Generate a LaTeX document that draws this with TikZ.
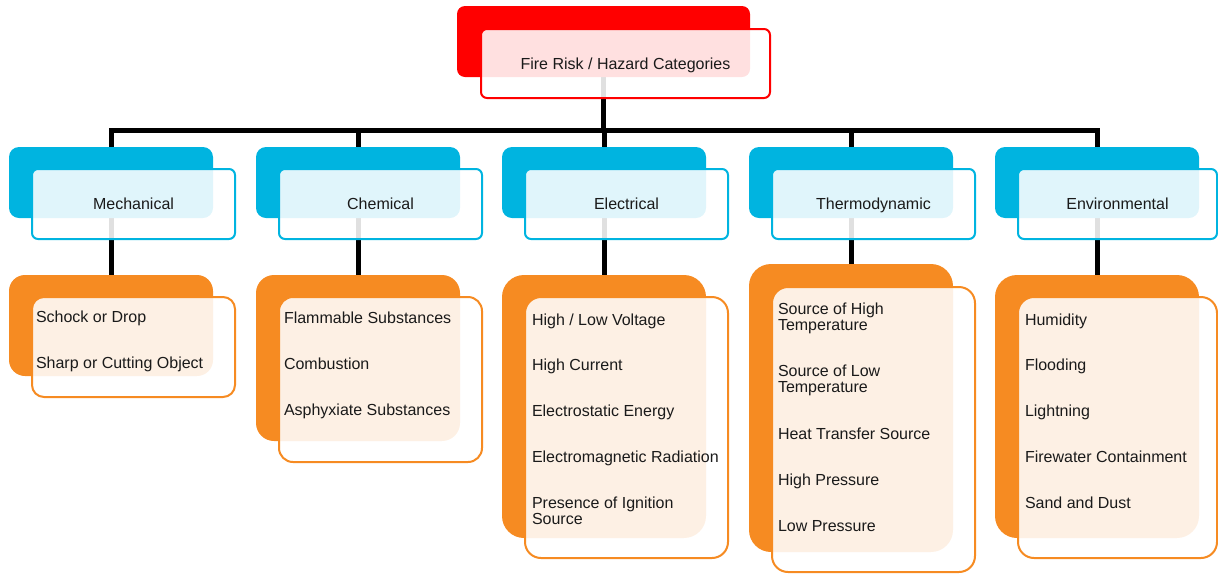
\documentclass[tikz,border=0pt]{standalone}
\usepackage{fontspec}
\setmainfont{Liberation Sans}
\pgfdeclarelayer{bg}
\pgfsetlayers{bg,main}
\definecolor{cred}{HTML}{FF0000}
\definecolor{cblue}{HTML}{00B4E0}
\definecolor{corange}{HTML}{F68B22}
\definecolor{ctext}{HTML}{1A1A1A}
\tikzset{
  backbox/.style={fill=#1, draw=none, anchor=north west, inner sep=0pt, outer sep=0pt},
  frontbox/.style={draw=#1, line width=2pt, fill=white, fill opacity=0.88, text opacity=1,
    anchor=north west, inner sep=0pt, outer sep=0pt, align=center, text=ctext,
    text height=11.5pt, text depth=0pt,
    font=\fontsize{16}{17}\selectfont},
  item/.style={anchor=base west, inner sep=0pt, outer sep=0pt, align=left, text=ctext,
    font=\fontsize{16}{16.2}\selectfont},
  conn/.style={line width=5pt, black, line join=miter},
}
\begin{document}
\begin{tikzpicture}[x=1pt,y=-1pt]
\useasboundingbox (0,0) rectangle (1218,574);
% top
\node[backbox=cred, minimum width=293pt, minimum height=71pt, rounded corners=8pt] (tb) at (457,6) {};
\node[frontbox=cred, minimum width=289pt, minimum height=69pt, rounded corners=6pt] (tf) at (481,29) {Fire Risk / Hazard Categories};
% categories
\node[backbox=cblue, minimum width=204pt, minimum height=71pt, rounded corners=10pt] (c1b) at (9,147) {};
\node[frontbox=cblue, minimum width=203pt, minimum height=70pt, rounded corners=6pt] (c1f) at (32,169) {Mechanical};
\node[backbox=cblue, minimum width=204pt, minimum height=71pt, rounded corners=10pt] (c2b) at (256,147) {};
\node[frontbox=cblue, minimum width=203pt, minimum height=70pt, rounded corners=6pt] (c2f) at (279,169) {Chemical};
\node[backbox=cblue, minimum width=204pt, minimum height=71pt, rounded corners=10pt] (c3b) at (502,147) {};
\node[frontbox=cblue, minimum width=203pt, minimum height=70pt, rounded corners=6pt] (c3f) at (525,169) {Electrical};
\node[backbox=cblue, minimum width=204pt, minimum height=71pt, rounded corners=10pt] (c4b) at (749,147) {};
\node[frontbox=cblue, minimum width=203pt, minimum height=70pt, rounded corners=6pt] (c4f) at (772,169) {Thermodynamic};
\node[backbox=cblue, minimum width=204pt, minimum height=71pt, rounded corners=10pt] (c5b) at (995,147) {};
\node[frontbox=cblue, minimum width=199pt, minimum height=70pt, rounded corners=6pt] (c5f) at (1018,169) {Environmental};
% leaves
\node[backbox=corange, minimum width=204pt, minimum height=101pt, rounded corners=16pt] (l1b) at (9,275) {};
\node[frontbox=corange, minimum width=203pt, minimum height=100pt, rounded corners=12pt] (l1f) at (32,297) {};
\node[backbox=corange, minimum width=204pt, minimum height=166pt, rounded corners=18pt] (l2b) at (256,275) {};
\node[frontbox=corange, minimum width=203pt, minimum height=165pt, rounded corners=14pt] (l2f) at (279,297) {};
\node[backbox=corange, minimum width=204pt, minimum height=263pt, rounded corners=22pt] (l3b) at (502,275) {};
\node[frontbox=corange, minimum width=203pt, minimum height=261pt, rounded corners=16pt] (l3f) at (525,297) {};
\node[backbox=corange, minimum width=204pt, minimum height=288pt, rounded corners=22pt] (l4b) at (749,264) {};
\node[frontbox=corange, minimum width=203pt, minimum height=285pt, rounded corners=16pt] (l4f) at (772,287) {};
\node[backbox=corange, minimum width=204pt, minimum height=263pt, rounded corners=22pt] (l5b) at (995,275) {};
\node[frontbox=corange, minimum width=199pt, minimum height=261pt, rounded corners=16pt] (l5f) at (1018,297) {};
% items
\node[item] (m1) at (36,322.5) {Schock or Drop};
\node[item] (m2) at (36,368) {Sharp or Cutting Object};
\node[item] (h1) at (284,323) {Flammable Substances};
\node[item] (h2) at (284,369) {Combustion};
\node[item] (h3) at (284,415) {Asphyxiate Substances};
\node[item] (e1) at (532,325) {High / Low Voltage};
\node[item] (e2) at (532,370.5) {High Current};
\node[item] (e3) at (532,416.5) {Electrostatic Energy};
\node[item] (e4) at (532,462) {Electromagnetic Radiation};
\node[item] (e5) at (532,524.5) {Presence of Ignition\\Source};
\node[item] (t1) at (778,330.5) {Source of High\\Temperature};
\node[item] (t2) at (778,392.5) {Source of Low\\Temperature};
\node[item] (t3) at (778,439) {Heat Transfer Source};
\node[item] (t4) at (778,485) {High Pressure};
\node[item] (t5) at (778,531) {Low Pressure};
\node[item] (v1) at (1025,325) {Humidity};
\node[item] (v2) at (1025,370.5) {Flooding};
\node[item] (v3) at (1025,416.5) {Lightning};
\node[item] (v4) at (1025,462) {Firewater Containment};
\node[item] (v5) at (1025,508) {Sand and Dust};
% connectors
\coordinate (bar) at (603.5,130);
\begin{pgfonlayer}{bg}
\foreach \i in {1,...,5}{
  \draw[conn] (tb.center) -- (tb.center |- bar) -| (c\i b.center);
  \draw[conn] (c\i b.center) -- (c\i b.center |- l\i b.center);
}
\end{pgfonlayer}
\end{tikzpicture}
\end{document}
